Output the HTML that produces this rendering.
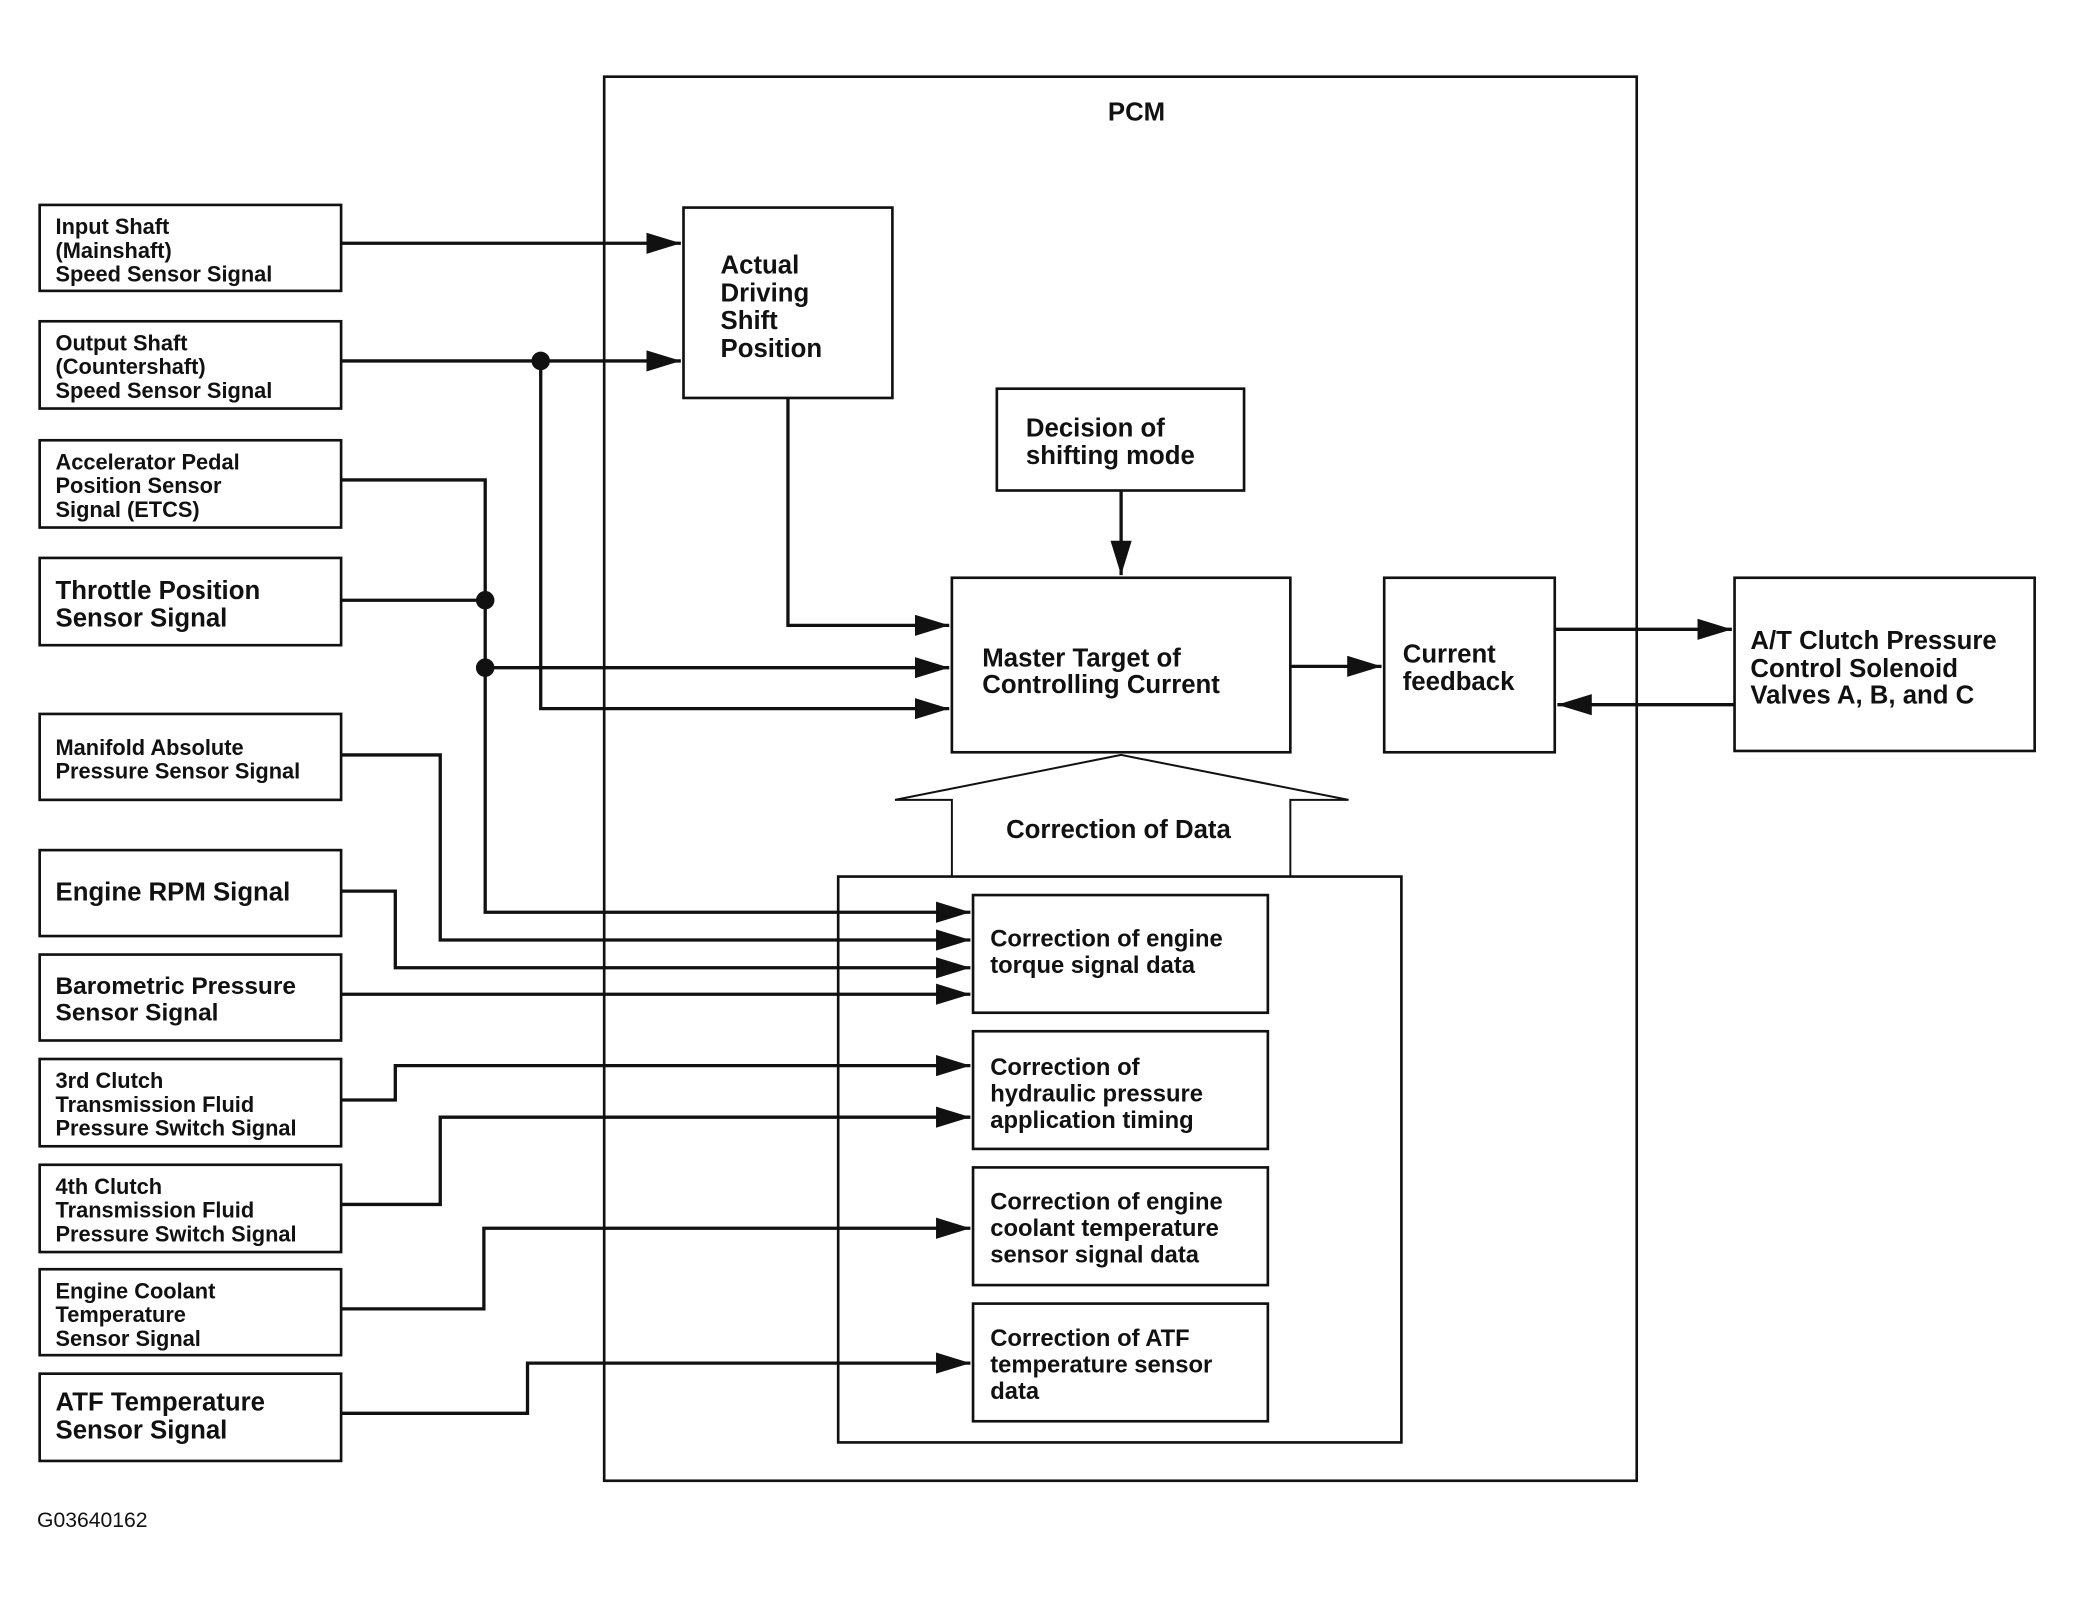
<!DOCTYPE html>
<html><head><meta charset="utf-8"><style>
html,body{margin:0;padding:0;background:#fff;}
svg{display:block;}
text{font-family:"Liberation Sans",Arial,sans-serif;font-weight:bold;fill:#111;}
.s{font-size:16.5px;}
.m{font-size:19.5px;}
</style></head><body>
<svg width="2073" height="1602" viewBox="0 0 1568 1211.7" preserveAspectRatio="none">
<defs>
<marker id="b" markerWidth="26" markerHeight="16" refX="26" refY="8" orient="auto" markerUnits="userSpaceOnUse"><path d="M0,0 L26,8 L0,16z" fill="#111"/></marker></defs>
<g fill="none" stroke="#111" stroke-width="2">
<rect x="457" y="58" width="781" height="1062"/>
<rect x="30" y="155" width="228" height="65"/>
<rect x="30" y="243" width="228" height="66"/>
<rect x="30" y="333" width="228" height="66"/>
<rect x="30" y="422" width="228" height="66"/>
<rect x="30" y="540" width="228" height="65"/>
<rect x="30" y="643" width="228" height="65"/>
<rect x="30" y="722" width="228" height="65"/>
<rect x="30" y="801" width="228" height="66"/>
<rect x="30" y="881" width="228" height="66"/>
<rect x="30" y="960" width="228" height="65"/>
<rect x="30" y="1039" width="228" height="66"/>
<rect x="517" y="157" width="158" height="144"/>
<rect x="754" y="294" width="187" height="77"/>
<rect x="720" y="437" width="256" height="132"/>
<rect x="1047" y="437" width="129" height="132"/>
<rect x="1312" y="437" width="227" height="131"/>
<rect x="634" y="663" width="426" height="428"/>
<rect x="736" y="677" width="223" height="89"/>
<rect x="736" y="780" width="223" height="89"/>
<rect x="736" y="883" width="223" height="89"/>
<rect x="736" y="986" width="223" height="89"/>
<polyline points="720,663 720,605 677,605 848,571 1020,605 976,605 976,663" stroke-width="1.5"/>
</g>
<g fill="none" stroke="#111" stroke-width="2.5">
<path d="M258,184 H515" marker-end="url(#b)"/>
<path d="M258,273 H515" marker-end="url(#b)"/>
<path d="M409,273 V536 H718" marker-end="url(#b)"/>
<path d="M258,363 H367 V690 H734" marker-end="url(#b)"/>
<path d="M258,454 H367"/>
<path d="M367,505 H718" marker-end="url(#b)"/>
<path d="M596,301 V473 H718" marker-end="url(#b)"/>
<path d="M848,371 V435" marker-end="url(#b)"/>
<path d="M976,504 H1045" marker-end="url(#b)"/>
<path d="M1176,476 H1310" marker-end="url(#b)"/>
<path d="M1312,533 H1178" marker-end="url(#b)"/>
<path d="M258,571 H333 V711 H734" marker-end="url(#b)"/>
<path d="M258,674 H299 V732 H734" marker-end="url(#b)"/>
<path d="M258,752 H734" marker-end="url(#b)"/>
<path d="M258,832 H299 V806 H734" marker-end="url(#b)"/>
<path d="M258,911 H333 V845 H734" marker-end="url(#b)"/>
<path d="M258,990 H366 V929 H734" marker-end="url(#b)"/>
<path d="M258,1069 H399 V1031 H734" marker-end="url(#b)"/>
</g>
<circle cx="409" cy="273" r="7" fill="#111"/>
<circle cx="367" cy="454" r="7" fill="#111"/>
<circle cx="367" cy="505" r="7" fill="#111"/>
<text class="m" x="838" y="91">PCM</text>
<text class="s"><tspan x="42" y="177">Input Shaft</tspan><tspan x="42" y="195">(Mainshaft)</tspan><tspan x="42" y="213">Speed Sensor Signal</tspan></text>
<text class="s"><tspan x="42" y="265">Output Shaft</tspan><tspan x="42" y="283">(Countershaft)</tspan><tspan x="42" y="301">Speed Sensor Signal</tspan></text>
<text class="s"><tspan x="42" y="355">Accelerator Pedal</tspan><tspan x="42" y="373">Position Sensor</tspan><tspan x="42" y="391">Signal (ETCS)</tspan></text>
<text class="m"><tspan x="42" y="453">Throttle Position</tspan><tspan x="42" y="474">Sensor Signal</tspan></text>
<text class="s"><tspan x="42" y="571">Manifold Absolute</tspan><tspan x="42" y="589">Pressure Sensor Signal</tspan></text>
<text class="m"><tspan x="42" y="681">Engine RPM Signal</tspan></text>
<text class="m" style="font-size:18.5px"><tspan x="42" y="752">Barometric Pressure</tspan><tspan x="42" y="772">Sensor Signal</tspan></text>
<text class="s"><tspan x="42" y="823">3rd Clutch</tspan><tspan x="42" y="841">Transmission Fluid</tspan><tspan x="42" y="859">Pressure Switch Signal</tspan></text>
<text class="s"><tspan x="42" y="903">4th Clutch</tspan><tspan x="42" y="921">Transmission Fluid</tspan><tspan x="42" y="939">Pressure Switch Signal</tspan></text>
<text class="s"><tspan x="42" y="982">Engine Coolant</tspan><tspan x="42" y="1000">Temperature</tspan><tspan x="42" y="1018">Sensor Signal</tspan></text>
<text class="m"><tspan x="42" y="1067">ATF Temperature</tspan><tspan x="42" y="1088">Sensor Signal</tspan></text>
<text class="m"><tspan x="545" y="207">Actual</tspan><tspan x="545" y="228">Driving</tspan><tspan x="545" y="249">Shift</tspan><tspan x="545" y="270">Position</tspan></text>
<text class="m"><tspan x="776" y="330">Decision of</tspan><tspan x="776" y="351">shifting mode</tspan></text>
<text class="m"><tspan x="743" y="504">Master Target of</tspan><tspan x="743" y="524">Controlling Current</tspan></text>
<text class="m"><tspan x="1061" y="501">Current</tspan><tspan x="1061" y="522">feedback</tspan></text>
<text class="m"><tspan x="1324" y="491">A/T Clutch Pressure</tspan><tspan x="1324" y="512">Control Solenoid</tspan><tspan x="1324" y="532">Valves A, B, and C</tspan></text>
<text class="m" x="761" y="634">Correction of Data</text>
<text class="m" style="font-size:18px"><tspan x="749" y="716">Correction of engine</tspan><tspan x="749" y="736">torque signal data</tspan></text>
<text class="m" style="font-size:18px"><tspan x="749" y="813">Correction of</tspan><tspan x="749" y="833">hydraulic pressure</tspan><tspan x="749" y="853">application timing</tspan></text>
<text class="m" style="font-size:18px"><tspan x="749" y="915">Correction of engine</tspan><tspan x="749" y="935">coolant temperature</tspan><tspan x="749" y="955">sensor signal data</tspan></text>
<text class="m" style="font-size:18px"><tspan x="749" y="1018">Correction of ATF</tspan><tspan x="749" y="1038">temperature sensor</tspan><tspan x="749" y="1058">data</tspan></text>
<text x="28" y="1155" style="font-weight:normal;font-size:16px">G03640162</text>
</svg>
</body></html>
